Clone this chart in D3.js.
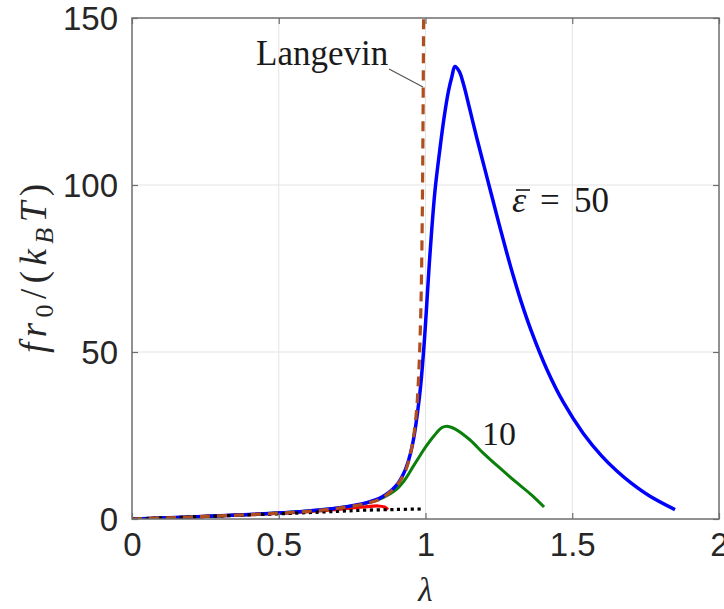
<!DOCTYPE html>
<html><head><meta charset="utf-8">
<script src="https://cdn.jsdelivr.net/npm/d3@7"></script>
<style>body{margin:0;background:#fff}svg{display:block}</style>
</head><body>
<svg id="c" width="724" height="609"></svg>
<script>
// ---- data ----
const lambdaTicks = [0, 0.5, 1, 1.5, 2];
const forceTicks = [0, 50, 100, 150];

const langevinLambda = [0,0.1,0.2,0.3,0.4,0.5,0.6,0.7,0.8,0.85,0.9,0.93,0.95,0.96,0.97,0.975,0.98,0.985,0.988,0.99,0.992,0.9935];
const langevinForce  = [0,0.3,0.6,0.95,1.3,1.75,2.3,3.2,4.7,6.2,9.8,14,20,25,33,40,50,66,83,100,125,150];

const eps50Lambda = [0,0.1,0.2,0.3,0.4,0.5,0.6,0.7,0.8,0.85,0.9,0.93,0.955,0.98,0.995,1.015,1.032,1.048,1.063,1.078,1.09,1.1,1.115,1.13,1.15,1.175,1.2,1.225,1.25,1.275,1.3,1.325,1.36,1.414,1.47,1.537,1.6,1.652,1.7,1.765,1.85];
const eps50Force  = [0,0.3,0.6,0.95,1.35,1.8,2.4,3.3,4.9,6.5,10,14.5,22,37,52,79,98,110,120,128,132.5,135.5,134,130,123,114,105.5,97,88.5,80.3,72.5,65.3,56.4,44.7,34.9,25.7,18.9,14.35,10.8,6.8,2.8];

const eps10Lambda = [0,0.2,0.4,0.6,0.7,0.8,0.85,0.9,0.93,0.957,0.98,1.0,1.03,1.055,1.073,1.1,1.15,1.196,1.25,1.312,1.36,1.404];
const eps10Force  = [0,0.6,1.35,2.4,3.3,4.8,6.2,8.8,11.8,15.6,18.8,21.5,25,27.3,27.8,27,23.8,19.8,15.5,10.8,7.3,3.6];

const eps1Lambda = [0,0.2,0.4,0.6,0.7,0.75,0.8,0.838,0.86,0.872];
const eps1Force  = [0,0.6,1.3,2.2,2.9,3.3,3.7,3.9,3.6,2.8];

const limitLambda = [0,0.2,0.4,0.57,0.7,0.8,0.9,0.99];
const limitForce  = [0,0.6,1.25,1.8,2.3,2.65,2.85,3.0];

// ---- layout ----
const L = 132, R = 719, T = 18, B = 519;
const svg = d3.select('#c');
const x = d3.scaleLinear().domain([0, 2]).range([L, R]);
const y = d3.scaleLinear().domain([0, 150]).range([B, T]);

// grid
const g = svg.append('g');
g.selectAll('.gx').data(lambdaTicks.slice(1, -1)).enter().append('line')
  .attr('x1', d => x(d)).attr('x2', d => x(d)).attr('y1', T).attr('y2', B)
  .attr('stroke', '#e3e3e3').attr('stroke-width', 1);
g.selectAll('.gy').data(forceTicks.slice(1, -1)).enter().append('line')
  .attr('y1', d => y(d)).attr('y2', d => y(d)).attr('x1', L).attr('x2', R)
  .attr('stroke', '#e3e3e3').attr('stroke-width', 1);

// curves
const line = d3.line().x(d => x(d[0])).y(d => y(d[1])).curve(d3.curveCatmullRom.alpha(0.5));
const zip = (a, b) => a.map((v, i) => [v, b[i]]);
svg.append('clipPath').attr('id', 'clp').append('rect').attr('x', L).attr('y', T).attr('width', R - L).attr('height', B - T);
const cg = svg.append('g').attr('clip-path', 'url(#clp)');

cg.append('path').attr('d', line(zip(eps1Lambda, eps1Force))).attr('fill', 'none').attr('stroke', '#ff0000').attr('stroke-width', 3.2);
cg.append('path').attr('d', line(zip(eps10Lambda, eps10Force))).attr('fill', 'none').attr('stroke', '#0a800a').attr('stroke-width', 3);
cg.append('path').attr('d', line(zip(eps50Lambda, eps50Force))).attr('fill', 'none').attr('stroke', '#0000ff').attr('stroke-width', 3.5);
cg.append('path').attr('d', line(zip(limitLambda, limitForce))).attr('fill', 'none').attr('stroke', '#000').attr('stroke-width', 3.2).attr('stroke-dasharray', '3.2,3.6');
cg.append('path').attr('d', line(zip(langevinLambda, langevinForce))).attr('fill', 'none').attr('stroke', '#b04e1d').attr('stroke-width', 3.2).attr('stroke-dasharray', '10,7');

// axes box
svg.append('rect').attr('x', L).attr('y', T).attr('width', R - L).attr('height', B - T)
  .attr('fill', 'none').attr('stroke', '#6e6e6e').attr('stroke-width', 1.5);

// axes with inward ticks (mirrored on top/right)
const fmt = d3.format('~g');
const xa = svg.append('g').attr('transform', `translate(0,${B})`).call(d3.axisBottom(x).tickValues(lambdaTicks).tickSize(-6).tickPadding(14).tickFormat(fmt));
const ya = svg.append('g').attr('transform', `translate(${L},0)`).call(d3.axisLeft(y).tickValues(forceTicks).tickSize(-6).tickPadding(14).tickFormat(fmt));
const xt = svg.append('g').attr('transform', `translate(0,${T})`).call(d3.axisTop(x).tickValues(lambdaTicks).tickSize(-6).tickFormat(''));
const yr = svg.append('g').attr('transform', `translate(${R},0)`).call(d3.axisRight(y).tickValues(forceTicks).tickSize(-6).tickFormat(''));
[xa, ya, xt, yr].forEach(a => {
  a.select('.domain').remove();
  a.selectAll('.tick line').attr('stroke', '#6e6e6e').attr('stroke-width', 1.2);
  a.selectAll('.tick text').attr('fill', '#262626').style('font-family', '"Liberation Sans", Arial, sans-serif').style('font-size', '33px');
});
xa.selectAll('.tick text').attr('dy', '0.71em');
ya.selectAll('.tick text').attr('dy', '0.35em');

// axis labels
const serif = '"Liberation Serif", "DejaVu Serif", serif';
svg.append('text').attr('x', (L + R) / 2).attr('y', 601).attr('text-anchor', 'middle')
  .style('font-family', serif).style('font-style', 'italic').style('font-size', '33px').attr('fill', '#262626').text('λ');

const yl = svg.append('text').attr('transform', `translate(46,${(T + B) / 2}) rotate(-90)`).attr('text-anchor', 'middle')
  .style('font-family', serif).style('font-size', '37px').attr('fill', '#262626')
  .attr('textLength', 169).attr('lengthAdjust', 'spacing');
yl.append('tspan').style('font-style', 'italic').text('fr');
yl.append('tspan').attr('dy', 7).style('font-size', '26px').text('0');
yl.append('tspan').attr('dy', -7).text('/(');
yl.append('tspan').style('font-style', 'italic').text('k');
yl.append('tspan').attr('dy', 7).style('font-size', '26px').style('font-style', 'italic').text('B');
yl.append('tspan').attr('dy', -7).style('font-style', 'italic').text('T');
yl.append('tspan').text(')');

// annotations
svg.append('text').attr('x', 256).attr('y', 65).style('font-family', serif).style('font-size', '35px').attr('fill', '#1a1a1a').text('Langevin');
svg.append('line').attr('x1', 389).attr('y1', 69).attr('x2', 423).attr('y2', 87).attr('stroke', '#555').attr('stroke-width', 1.2);

svg.append('text').attr('x', 512).attr('y', 212).style('font-family', serif).style('font-style', 'italic').style('font-size', '36px').attr('fill', '#1a1a1a').text('ε');
svg.append('line').attr('x1', 516).attr('x2', 530).attr('y1', 190).attr('y2', 190).attr('stroke', '#1a1a1a').attr('stroke-width', 1.6);
svg.append('text').attr('x', 540).attr('y', 212).style('font-family', serif).style('font-size', '35px').attr('fill', '#1a1a1a').text('=');
svg.append('text').attr('x', 574).attr('y', 212).style('font-family', serif).style('font-size', '35px').attr('fill', '#1a1a1a').text('50');

svg.append('text').attr('x', 482).attr('y', 445).style('font-family', serif).style('font-size', '34px').attr('fill', '#1a1a1a').text('10');
</script>
</body></html>
